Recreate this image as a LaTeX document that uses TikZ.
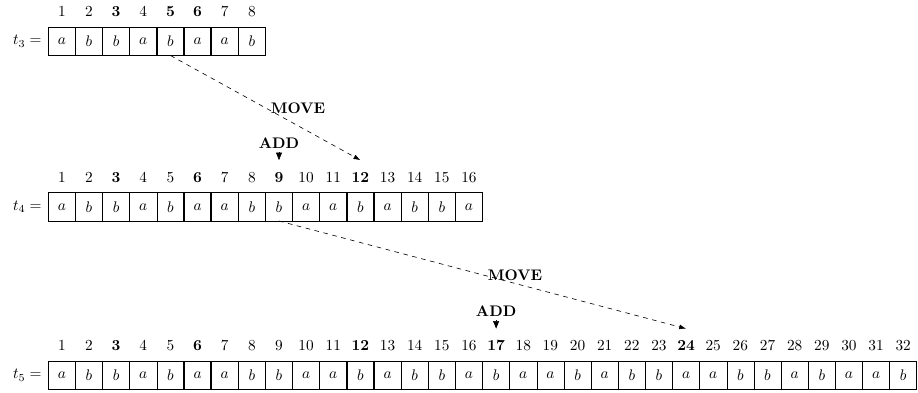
\documentclass[tikz,border=0pt]{standalone}
\usetikzlibrary{arrows.meta,calc}
\begin{document}
\begin{tikzpicture}[x=0.653pt,y=-0.653pt,
  cell/.style={draw, line width=0.4pt, minimum width=17.72pt, minimum height=18.6pt, inner sep=0pt, outer sep=0pt},
  idx/.style={inner xsep=0pt, inner ysep=7.9pt, text height=6.44pt, text depth=0pt},
  sepline/.style={line width=1pt},
  mv/.style={dashed, line width=0.4pt, -{Latex[length=4.5pt,width=3.2pt]}},
  addtip/.style={-{Triangle[length=5pt,width=3.9pt]}},
  lbl/.style={font=\bfseries},
  addlbl/.style={font=\bfseries, inner ysep=2.1pt, text height=6.86pt, text depth=0pt},
  tlbl/.style={anchor=east}]
\useasboundingbox (0,0) rectangle (918,392);
% row t3
\node[tlbl] (t3) at (47,41.25) {$t_3 =$};
\foreach \s/\n [count=\i] in {a/1,b/2,b/\textbf{3},a/4,b/\textbf{5},a/\textbf{6},a/7,b/8} {
  \node[cell] (r3-\i) at ({48.3+(\i-0.5)*27.14},41.25) {$\s$};
  \node[idx] (i3-\i) at ({48.3+(\i-0.5)*27.14},12) {\n};
}
\foreach \k in {3,5,6}
  \draw[sepline] (r3-\k.north west) -- (r3-\k.south west) (r3-\k.north east) -- (r3-\k.south east);
% row t4
\node[tlbl] (t4) at (47,206.75) {$t_4 =$};
\foreach \s/\n [count=\i] in {a/1,b/2,b/\textbf{3},a/4,b/5,a/\textbf{6},a/7,b/8,b/\textbf{9},a/10,a/11,b/\textbf{12},a/13,b/14,b/15,a/16} {
  \node[cell] (r4-\i) at ({48.3+(\i-0.5)*27.14},206.75) {$\s$};
  \node[idx] (i4-\i) at ({48.3+(\i-0.5)*27.14},177.5) {\n};
}
\foreach \k in {3,6,9,12}
  \draw[sepline] (r4-\k.north west) -- (r4-\k.south west) (r4-\k.north east) -- (r4-\k.south east);
% row t5
\node[tlbl] (t5) at (47,375.25) {$t_5 =$};
\foreach \s/\n [count=\i] in {a/1,b/2,b/\textbf{3},a/4,b/5,a/\textbf{6},a/7,b/8,b/9,a/10,a/11,b/\textbf{12},a/13,b/14,b/15,a/16,b/\textbf{17},a/18,a/19,b/20,a/21,b/22,b/23,a/\textbf{24},a/25,b/26,b/27,a/28,b/29,a/30,a/31,b/32} {
  \node[cell] (r5-\i) at ({48.3+(\i-0.5)*27.14},375.25) {$\s$};
  \node[idx] (i5-\i) at ({48.3+(\i-0.5)*27.14},346) {\n};
}
\foreach \k in {3,6,12,17,24}
  \draw[sepline] (r5-\k.north west) -- (r5-\k.south west) (r5-\k.north east) -- (r5-\k.south east);
% moves
\draw[mv] (r3-5.south) -- (i4-12.north) node[midway, right, lbl] {MOVE};
\draw[mv] (r4-9.south) -- (i5-24.north) node[midway, right, lbl] {MOVE};
% adds
\node[addlbl] (add1) at ($(i4-9.center)+(0,-34.5)$) {ADD};
\draw[addtip] (add1.south) -- (i4-9.north);
\node[addlbl] (add2) at ($(i5-17.center)+(0,-34.5)$) {ADD};
\draw[addtip] (add2.south) -- (i5-17.north);
\end{tikzpicture}
\end{document}
